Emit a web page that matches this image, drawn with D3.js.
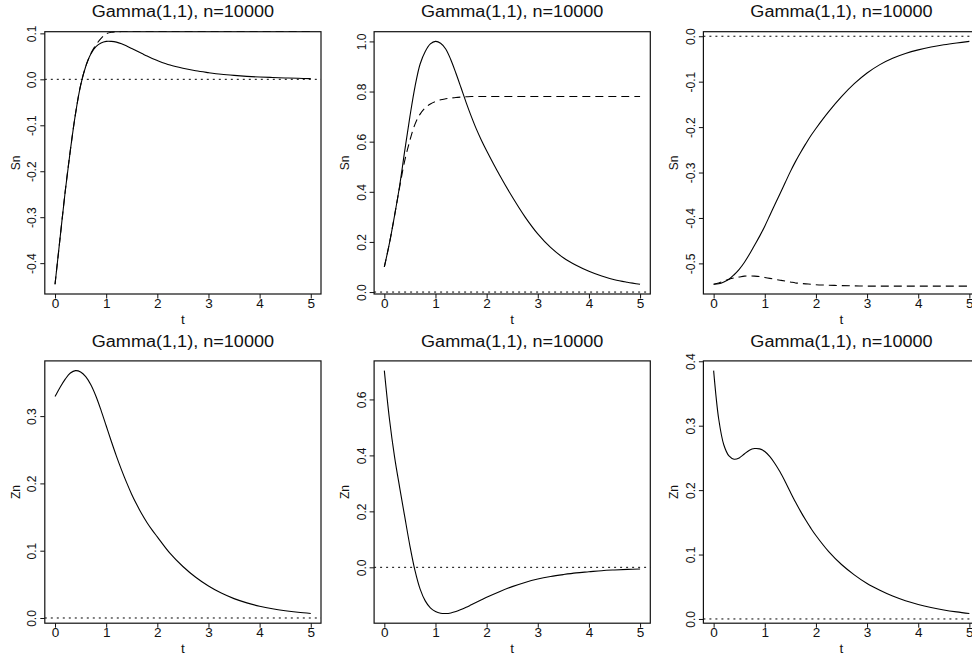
<!DOCTYPE html>
<html>
<head>
<meta charset="utf-8">
<script src="https://cdn.jsdelivr.net/npm/d3@7"></script>
<style>
  body { margin: 0; background: #fff; }
  svg { display: block; }
</style>
</head>
<body>
<div id="chart"></div>
<script>

// t grid the curves were read at
const tValues = [0, 0.1, 0.2, 0.3, 0.4, 0.5, 0.6, 0.7, 0.8, 0.9, 1.0,
    1.1, 1.2, 1.3, 1.4, 1.5, 1.6, 1.7, 1.8, 1.9, 2.0,
    2.25, 2.5, 2.75, 3.0, 3.25, 3.5, 3.75, 4.0, 4.25, 4.5, 4.75, 5.0];

// top row: Sn (solid) and its limit (dashed)
const sn1 = [-0.446, -0.344, -0.243, -0.154, -0.075, -0.013, 0.028, 0.055, 0.071, 0.079, 0.0825,
    0.0825, 0.081, 0.0775, 0.0725, 0.067, 0.0615, 0.056, 0.0505, 0.0455, 0.041,
    0.031, 0.024, 0.0185, 0.0145, 0.011, 0.0085, 0.0065, 0.005, 0.004, 0.003, 0.0022, 0.0015];
const sn1Dashed = [-0.446, -0.344, -0.243, -0.154, -0.075, -0.013, 0.028, 0.056, 0.075, 0.089, 0.099,
    0.1025, 0.1035, 0.104, 0.104, 0.104, 0.104, 0.104, 0.104, 0.104, 0.104,
    0.104, 0.104, 0.104, 0.104, 0.104, 0.104, 0.104, 0.104, 0.104, 0.104, 0.104, 0.104];

const sn2 = [0.1, 0.195, 0.305, 0.425, 0.565, 0.70, 0.82, 0.91, 0.96, 0.99, 1.0,
    0.993, 0.97, 0.927, 0.873, 0.815, 0.756, 0.701, 0.65, 0.605, 0.564,
    0.468, 0.38, 0.30, 0.232, 0.178, 0.137, 0.107, 0.083, 0.064, 0.049, 0.039, 0.031];
const sn2Dashed = [0.1, 0.195, 0.305, 0.42, 0.525, 0.605, 0.67, 0.71, 0.735, 0.75, 0.76,
    0.767, 0.771, 0.774, 0.776, 0.778, 0.779, 0.78, 0.78, 0.78, 0.78,
    0.78, 0.78, 0.78, 0.78, 0.78, 0.78, 0.78, 0.78, 0.78, 0.78, 0.78, 0.78];

const sn3 = [-0.546, -0.545, -0.541, -0.535, -0.525, -0.513, -0.498, -0.48, -0.46, -0.44, -0.418,
    -0.394, -0.37, -0.346, -0.322, -0.298, -0.276, -0.256, -0.237, -0.219, -0.203,
    -0.166, -0.133, -0.1045, -0.081, -0.0625, -0.0485, -0.038, -0.03, -0.0238, -0.0189, -0.0149, -0.0114];
const sn3Dashed = [-0.546, -0.543, -0.539, -0.535, -0.532, -0.53, -0.528, -0.5275, -0.528, -0.529, -0.531,
    -0.533, -0.535, -0.537, -0.539, -0.541, -0.543, -0.544, -0.545, -0.546, -0.547,
    -0.548, -0.549, -0.5495, -0.55, -0.55, -0.55, -0.55, -0.55, -0.55, -0.55, -0.55, -0.55];

// bottom row: Zn
const zn1 = [0.329, 0.343, 0.355, 0.364, 0.3676, 0.3656, 0.3586, 0.3466, 0.3296, 0.3086, 0.2856,
    0.2626, 0.2406, 0.2201, 0.2011, 0.1836, 0.1681, 0.1541, 0.1416, 0.1306, 0.1206,
    0.096, 0.0765, 0.0605, 0.0475, 0.037, 0.0288, 0.0225, 0.0175, 0.0137, 0.0108, 0.0085, 0.0067];
const zn2 = [0.703, 0.53, 0.395, 0.285, 0.18, 0.077, -0.012, -0.078, -0.12, -0.145, -0.158,
    -0.164, -0.165, -0.163, -0.158, -0.151, -0.143, -0.134, -0.125, -0.116, -0.107,
    -0.087, -0.069, -0.054, -0.042, -0.033, -0.026, -0.02, -0.016, -0.012, -0.0095, -0.0075, -0.006];
const zn3 = [0.3855, 0.31, 0.27, 0.253, 0.248, 0.25, 0.256, 0.262, 0.2645, 0.264, 0.26,
    0.252, 0.241, 0.228, 0.213, 0.197, 0.1815, 0.167, 0.1535, 0.141, 0.1295,
    0.1045, 0.0845, 0.0685, 0.055, 0.0445, 0.0355, 0.0283, 0.0225, 0.0178, 0.014, 0.011, 0.0085];

// tick labels
const tTicks = [0, 1, 2, 3, 4, 5];
const snTicks1 = [-0.4, -0.3, -0.2, -0.1, 0, 0.1];
const snTicks2 = [0, 0.2, 0.4, 0.6, 0.8, 1.0];
const snTicks3 = [-0.5, -0.4, -0.3, -0.2, -0.1, 0];
const znTicks1 = [0, 0.1, 0.2, 0.3];
const znTicks2 = [0, 0.2, 0.4, 0.6];
const znTicks3 = [0, 0.1, 0.2, 0.3, 0.4];

const titleText = "Gamma(1,1), n=10000";

const panels = [
    { ylab: "Sn", solid: sn1, dashed: sn1Dashed, yTicks: snTicks1 },
    { ylab: "Sn", solid: sn2, dashed: sn2Dashed, yTicks: snTicks2 },
    { ylab: "Sn", solid: sn3, dashed: sn3Dashed, yTicks: snTicks3 },
    { ylab: "Zn", solid: zn1, dashed: null, yTicks: znTicks1 },
    { ylab: "Zn", solid: zn2, dashed: null, yTicks: znTicks2 },
    { ylab: "Zn", solid: zn3, dashed: null, yTicks: znTicks3 }
];

const dimensions = {
    width: 972,
    height: 656,
    cell: { width: 329.3, height: 329.2 },
    margin: { left: 44.8, top: 31.7 },
    box: { width: 276.2, height: 262.3 }
};

// the original picture is a little wider than tall
const stretch = 1.13;
const font = "'Liberation Sans', Arial, Helvetica, sans-serif";

// R style axis range: data range plus 4% each side
const padRange = ([a, b]) => [a - 0.04 * (b - a), b + 0.04 * (b - a)];

const svg = d3.select("#chart")
    .append("svg")
    .attr("width", dimensions.width)
    .attr("height", dimensions.height)
    .style("font-family", font);

function drawPanel(panel, i) {
    const col = i % 3;
    const row = Math.floor(i / 3);
    const w = dimensions.box.width;
    const h = dimensions.box.height;

    const container = svg.append("g")
        .attr("transform", `translate(${dimensions.margin.left + col * dimensions.cell.width}, ${dimensions.margin.top + row * dimensions.cell.height})`);

    const xScale = d3.scaleLinear()
        .domain(padRange(d3.extent(tValues)))
        .range([0, w]);

    const yScale = d3.scaleLinear()
        .domain(padRange(d3.extent(panel.solid)))
        .range([h, 0]);

    const clipId = `clip-${i}`;
    container.append("clipPath")
        .attr("id", clipId)
        .append("rect")
        .attr("x", -1).attr("y", -1.5)
        .attr("width", w + 2).attr("height", h + 2.5);

    const plot = container.append("g").attr("clip-path", `url(#${clipId})`);

    const line = d3.line()
        .x((d, j) => xScale(tValues[j]))
        .y(d => yScale(d))
        .curve(d3.curveCatmullRom.alpha(0.5));

    // horizontal reference at zero
    plot.append("line")
        .attr("x1", 0).attr("x2", w)
        .attr("y1", yScale(0)).attr("y2", yScale(0))
        .attr("stroke", "#000")
        .attr("stroke-width", 1)
        .attr("stroke-dasharray", "2,4");

    if (panel.dashed) {
        plot.append("path")
            .datum(panel.dashed)
            .attr("fill", "none")
            .attr("stroke", "#000")
            .attr("stroke-width", 1.1)
            .attr("stroke-dasharray", "8,5")
            .attr("d", line);
    }

    plot.append("path")
        .datum(panel.solid)
        .attr("fill", "none")
        .attr("stroke", "#000")
        .attr("stroke-width", 1.1)
        .attr("d", line);

    // box
    container.append("rect")
        .attr("width", w).attr("height", h)
        .attr("fill", "none")
        .attr("stroke", "#111")
        .attr("stroke-width", 1.2);

    const xAxis = d3.axisBottom(xScale)
        .tickValues(tTicks)
        .tickSize(4.5)
        .tickFormat(d3.format("d"));

    const xAxisGroup = container.append("g")
        .attr("transform", `translate(0, ${h})`)
        .call(xAxis);
    xAxisGroup.select(".domain").remove();
    xAxisGroup.selectAll("line").attr("stroke", "#111");
    xAxisGroup.selectAll("text")
        .attr("y", null).attr("dy", null)
        .attr("font-size", 12)
        .attr("font-family", font)
        .attr("fill", "#111")
        .attr("transform", `translate(0, 14.3) scale(${stretch}, 1)`);

    const yAxis = d3.axisLeft(yScale)
        .tickValues(panel.yTicks)
        .tickSize(4.5)
        .tickFormat(d => d.toFixed(1));

    const yAxisGroup = container.append("g").call(yAxis);
    yAxisGroup.select(".domain").remove();
    yAxisGroup.selectAll("line").attr("stroke", "#111");
    yAxisGroup.selectAll("text")
        .attr("x", null).attr("dy", "0.36em")
        .attr("text-anchor", "middle")
        .attr("font-size", 12)
        .attr("font-family", font)
        .attr("fill", "#111")
        .attr("transform", `translate(-13.3, 0) scale(${stretch}, 1) rotate(-90)`);

    container.append("text")
        .attr("transform", `translate(${w / 2}, -14.4) scale(${stretch}, 1)`)
        .attr("text-anchor", "middle")
        .attr("font-size", 16)
        .attr("fill", "#111")
        .text(titleText);

    container.append("text")
        .attr("transform", `translate(${xScale(2.5)}, ${h + 29.5}) scale(${stretch}, 1)`)
        .attr("text-anchor", "middle")
        .attr("font-size", 12)
        .attr("fill", "#111")
        .text("t");

    container.append("text")
        .attr("transform", `translate(-29.8, ${h / 2}) scale(${stretch}, 1) rotate(-90)`)
        .attr("text-anchor", "middle")
        .attr("dy", "0.36em")
        .attr("font-size", 12)
        .attr("fill", "#111")
        .text(panel.ylab);
}

panels.forEach(drawPanel);

</script>
</body>
</html>
